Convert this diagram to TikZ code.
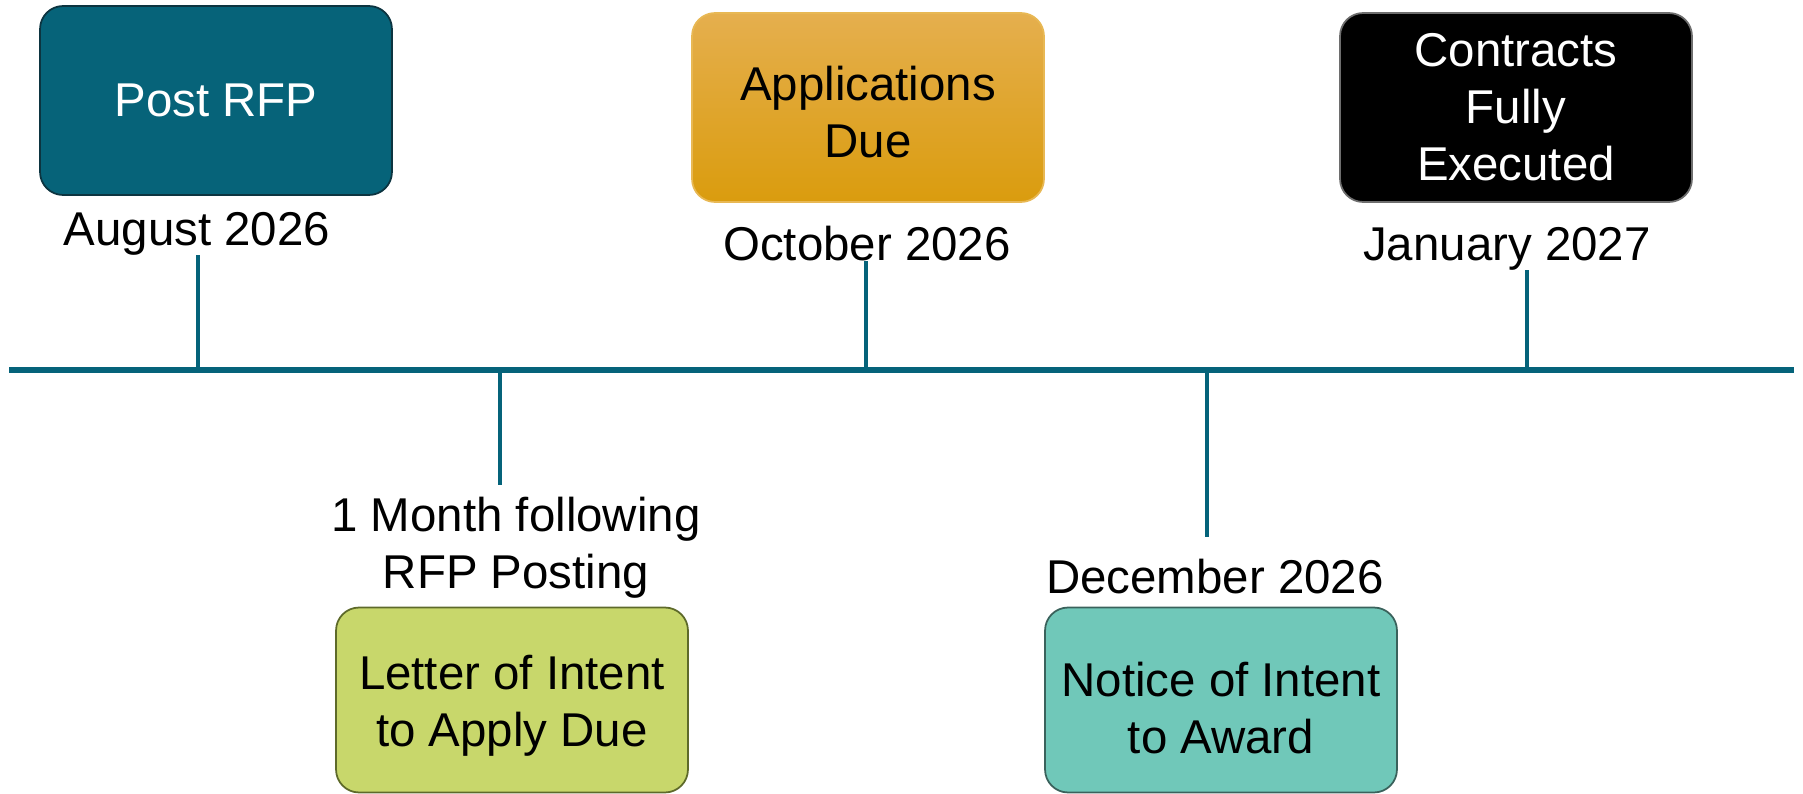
\documentclass[tikz,border=0pt]{standalone}
\usepackage{fontspec}
\setmainfont{Liberation Sans}
\begin{document}
\begin{tikzpicture}[x=0.02cm, y=-0.02cm, every node/.style={font=\fontsize{27}{32.4}\selectfont, align=center, inner sep=0pt}]
        \definecolor{axisTeal}{RGB}{5,99,122}
        \definecolor{postFill}{RGB}{6,99,121}
        \definecolor{postLine}{RGB}{12,52,64}
        \definecolor{appTop}{RGB}{229,175,78}
        \definecolor{appBottom}{RGB}{218,156,14}
        \definecolor{appLine}{RGB}{232,184,84}
        \definecolor{execLine}{RGB}{110,110,110}
        \definecolor{letterFill}{RGB}{200,215,107}
        \definecolor{letterLine}{RGB}{94,106,42}
        \definecolor{noticeFill}{RGB}{112,200,185}
        \definecolor{noticeLine}{RGB}{58,98,92}
        \tikzset{
          event/.style={rounded corners=0.46cm, minimum width=7.04cm, minimum height=3.78cm, line width=1pt},
          eventlow/.style={event, minimum height=3.7cm},
          tick/.style={axisTeal, line width=1.8pt},
        }
        \useasboundingbox (0,0) rectangle (1803,794);
        % time axis
        \coordinate (axisL) at (9,370);
        \coordinate (axisR) at (1794,370);
        \draw[axisTeal, line width=2.9pt] (axisL) -- (axisR);
        % milestones above the axis
        \node[event, fill=postFill, draw=postLine, text=white] (post) at (216,100.5) {Post RFP};
        \node[anchor=base] (aug) at (197,245) {August 2026};
        \node[event, top color=appTop, bottom color=appBottom, draw=appLine] (apps) at (868,107.5) {};
        \node (appsText) at (868,112) {Applications\\Due};
        \node[anchor=base] (oct) at (867,260) {October 2026};
        \node[event, fill=black, draw=execLine, text=white] (exec) at (1516,107.5) {Contracts\\Fully\\Executed};
        \node[anchor=base] (jan) at (1507,260) {January 2027};
        % milestones below the axis
        \node (month) at (516,548) {1 Month following\\RFP Posting};
        \node[eventlow, fill=letterFill, draw=letterLine] (letter) at (512,700) {};
        \node (letterText) at (512,706) {Letter of Intent\\to Apply Due};
        \node[anchor=base] (dec) at (1215,593) {December 2026};
        \node[eventlow, fill=noticeFill, draw=noticeLine] (notice) at (1221,700) {};
        \node (noticeText) at (1221,708) {Notice of Intent\\to Award};
        % ticks
        \coordinate (augTick) at (198,370);
        \coordinate (octTick) at (866,370);
        \coordinate (janTick) at (1527,370);
        \coordinate (letterTick) at (500,370);
        \coordinate (letterEnd) at (500,485);
        \coordinate (noticeTick) at (1207,370);
        \coordinate (noticeEnd) at (1207,537);
        \draw[tick] (augTick) -- (augTick |- aug.south);
        \draw[tick] (octTick) -- (octTick |- oct.south);
        \draw[tick] (janTick) -- (janTick |- jan.south);
        \draw[tick] (letterTick) -- (letterEnd);
        \draw[tick] (noticeTick) -- (noticeEnd);
      \end{tikzpicture}
\end{document}
